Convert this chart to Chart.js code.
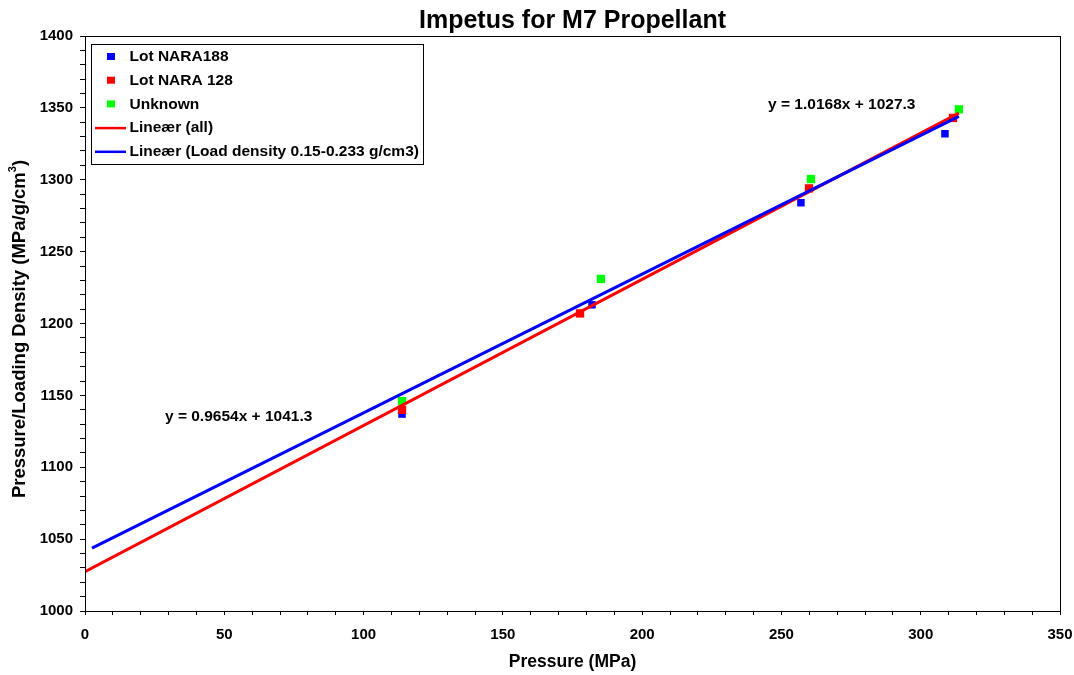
<!doctype html>
<html>
<head>
    <title>Impetus for M7 Propellant</title>
    <script src="https://cdn.jsdelivr.net/npm/chart.js@4/dist/chart.umd.min.js"></script>
    <style>
        body { margin: 0; background: #fff; }
        #wrap { width: 1074px; height: 675px; position: relative; }
    </style>
</head>
<body>
    <div id="wrap"><canvas id="canvas" width="1074" height="675"></canvas></div>
    <script>
        // measured points (pressure MPa, pressure/loading density)
        var nara188X = [113.8, 182.0, 257.0, 308.7];
        var nara188Y = [1137, 1213, 1284, 1332];
        var nara128X = [113.8, 177.7, 259.9, 311.6];
        var nara128Y = [1140, 1207, 1294, 1343];
        var unknownX = [113.8, 185.2, 260.6, 313.7];
        var unknownY = [1146, 1231, 1300.5, 1349];

        // trendline end points
        var fitAllX = [0, 313.7];
        var fitAllY = [1027.3, 1346.3];
        var fitLoadX = [2.5, 313.7];
        var fitLoadY = [1043.7, 1344.1];

        var eqAll = 'y = 1.0168x + 1027.3';
        var eqLoad = 'y = 0.9654x + 1041.3';

        var FONT = 'Arial, "Liberation Sans", sans-serif';

        function pts(xs, ys) {
            return xs.map(function (x, i) { return {x: x, y: ys[i]}; });
        }

        var legendItems = [
            {label: 'Lot NARA188', color: '#0000ff', kind: 'point'},
            {label: 'Lot NARA 128', color: '#ff0000', kind: 'point'},
            {label: 'Unknown', color: '#00ff00', kind: 'point'},
            {label: 'Lineær (all)', color: '#ff0000', kind: 'line'},
            {label: 'Lineær (Load density 0.15-0.233 g/cm3)', color: '#0000ff', kind: 'line'}
        ];

        var extras = {
            id: 'extras',
            afterDraw: function (chart) {
                var ctx = chart.ctx, a = chart.chartArea;
                var xs = chart.scales.x, ys = chart.scales.y;
                ctx.save();
                // frame
                ctx.strokeStyle = '#000';
                ctx.lineWidth = 1;
                ctx.strokeRect(Math.round(a.left) + 0.5, Math.round(a.top) + 0.5,
                    Math.round(a.right - a.left), Math.round(a.bottom - a.top));
                // title
                ctx.fillStyle = '#000';
                ctx.font = 'bold 25px ' + FONT;
                ctx.textAlign = 'center';
                ctx.textBaseline = 'middle';
                ctx.fillText('Impetus for M7 Propellant', (a.left + a.right) / 2, 21);
                // y axis title with superscript
                ctx.save();
                ctx.translate(20, 329);
                ctx.rotate(-Math.PI / 2);
                ctx.font = 'bold 18.5px ' + FONT;
                var t1 = 'Pressure/Loading Density (MPa/g/cm', t2 = '3', t3 = ')';
                var w1 = ctx.measureText(t1).width, w3 = ctx.measureText(t3).width;
                ctx.font = 'bold 11px ' + FONT;
                var w2 = ctx.measureText(t2).width;
                var x0 = -(w1 + w2 + w3) / 2;
                ctx.textAlign = 'left';
                ctx.font = 'bold 18.5px ' + FONT;
                ctx.fillText(t1, x0, 0);
                ctx.fillText(t3, x0 + w1 + w2, 0);
                ctx.font = 'bold 11px ' + FONT;
                ctx.fillText(t2, x0 + w1, -7);
                ctx.restore();
                // equations
                ctx.font = 'bold 15.5px ' + FONT;
                ctx.textAlign = 'left';
                ctx.fillText(eqLoad, xs.getPixelForValue(28.7), ys.getPixelForValue(1135));
                ctx.fillText(eqAll, xs.getPixelForValue(245.2), ys.getPixelForValue(1352));
                // legend box
                ctx.font = 'bold 15.5px ' + FONT;
                var lx = 91, ly = 44, lh = 120;
                var lw = 130 + ctx.measureText(legendItems[4].label).width + 4 - lx;
                ctx.fillStyle = '#fff';
                ctx.fillRect(lx, ly, lw, lh);
                ctx.strokeStyle = '#000';
                ctx.strokeRect(lx + 0.5, ly + 0.5, Math.round(lw), lh);
                legendItems.forEach(function (it, i) {
                    var cy = 57 + i * 23.7;
                    if (it.kind === 'point') {
                        ctx.fillStyle = it.color;
                        ctx.fillRect(107, cy - 4, 8, 7);
                    } else {
                        ctx.strokeStyle = it.color;
                        ctx.lineWidth = 2.5;
                        ctx.beginPath();
                        ctx.moveTo(95, cy);
                        ctx.lineTo(126, cy);
                        ctx.stroke();
                    }
                    ctx.fillStyle = '#000';
                    ctx.fillText(it.label, 129.5, cy);
                });
                ctx.restore();
            }
        };

        var config = {
            type: 'scatter',
            data: {
                datasets: [
                    {label: 'Lineær (Load density 0.15-0.233 g/cm3)', data: pts(fitLoadX, fitLoadY), showLine: true,
                        borderColor: '#0000ff', borderWidth: 3, pointRadius: 0, order: 1},
                    {label: 'Lineær (all)', data: pts(fitAllX, fitAllY), showLine: true,
                        borderColor: '#ff0000', borderWidth: 3, pointRadius: 0, order: 2},
                    {label: 'Lot NARA188', data: pts(nara188X, nara188Y), backgroundColor: '#0000ff',
                        pointStyle: 'rect', pointRadius: 5.3, borderWidth: 0, order: 5},
                    {label: 'Lot NARA 128', data: pts(nara128X, nara128Y), backgroundColor: '#ff0000',
                        pointStyle: 'rect', pointRadius: 5.9, borderWidth: 0, order: 4},
                    {label: 'Unknown', data: pts(unknownX, unknownY), backgroundColor: '#00ff00',
                        pointStyle: 'rect', pointRadius: 5.9, borderWidth: 0, order: 3}
                ]
            },
            options: {
                responsive: false,
                animation: false,
                layout: {padding: {top: 36, right: 14, left: 0, bottom: 0}},
                plugins: {legend: {display: false}, title: {display: false}, tooltip: {enabled: false}},
                scales: {
                    x: {
                        type: 'linear', min: 0, max: 350,
                        afterFit: function (s) { s.height = 64; s.paddingLeft = 0; s.paddingRight = 0; },
                        grid: {drawOnChartArea: false, tickLength: 4, color: '#000'},
                        border: {color: '#000', width: 1},
                        ticks: {stepSize: 10, autoSkip: false, maxRotation: 0, padding: 11, color: '#000',
                            font: {family: FONT, size: 15, weight: 'bold'},
                            callback: function (v) { return v % 50 === 0 ? v : ''; }},
                        title: {display: true, text: 'Pressure (MPa)', color: '#000', padding: {bottom: 2.5},
                            font: {family: FONT, size: 17.5, weight: 'bold'}}
                    },
                    y: {
                        type: 'linear', min: 1000, max: 1400,
                        afterFit: function (s) { s.width = 85; },
                        grid: {drawOnChartArea: false, tickLength: 5, color: '#000'},
                        border: {color: '#000', width: 1},
                        ticks: {stepSize: 10, autoSkip: false, padding: 7, color: '#000',
                            font: {family: FONT, size: 15, weight: 'bold'},
                            callback: function (v) { return v % 50 === 0 ? v : ''; }},
                        title: {display: false}
                    }
                }
            },
            plugins: [extras]
        };

        window.onload = function () {
            var ctx = document.getElementById('canvas').getContext('2d');
            window.myChart = new Chart(ctx, config);
        };
    </script>
</body>
</html>
